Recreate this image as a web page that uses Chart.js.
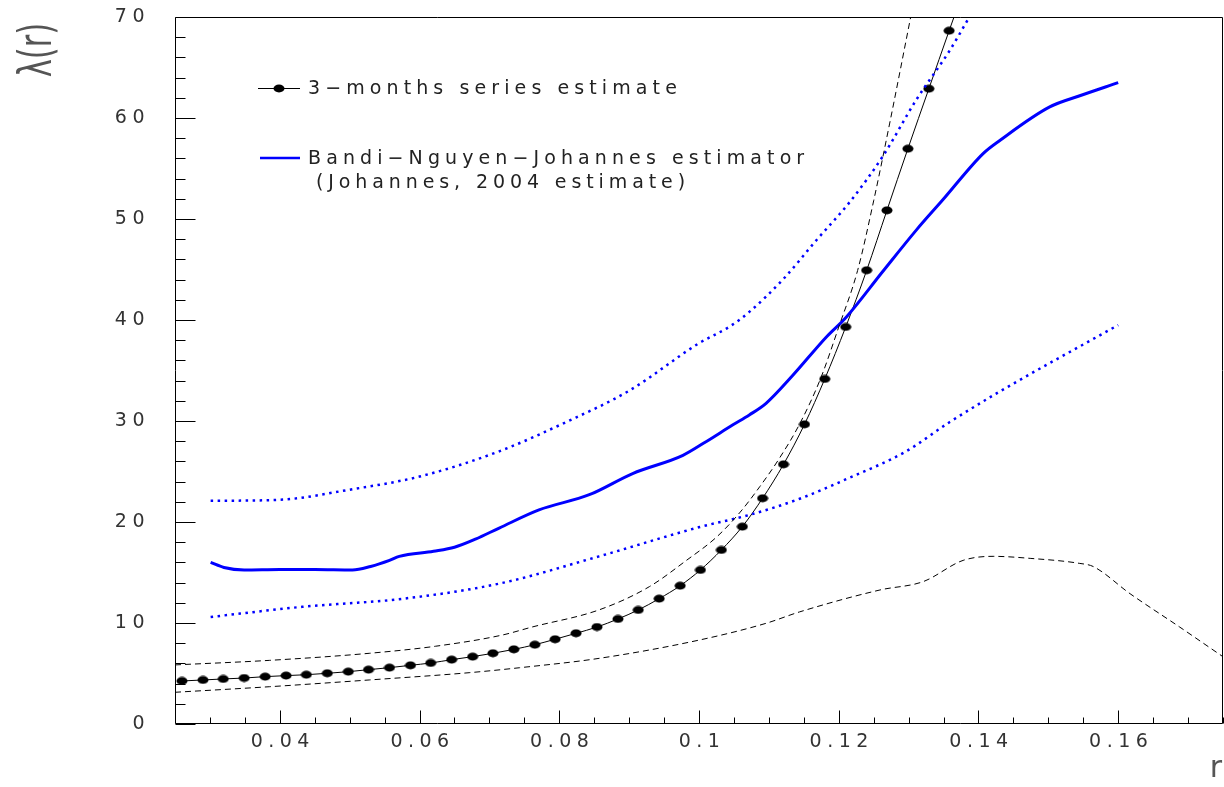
<!DOCTYPE html>
<html><head><meta charset="utf-8">
<script src="https://cdn.jsdelivr.net/npm/chart.js@4.4.1/dist/chart.umd.min.js"></script>
<style>html,body{margin:0;padding:0;background:#fff;overflow:hidden}canvas{display:block}</style>
</head><body>
<canvas id="c" width="1224" height="787"></canvas>
<script>
// ---- tick labels ----
const xTickValues = [0.04, 0.06, 0.08, 0.10, 0.12, 0.14, 0.16];
const yTickValues = [0, 10, 20, 30, 40, 50, 60, 70];
const xTitle = 'r';
const yTitle = '\u03bb(r)';

// ---- 3-months series estimate (dots) ----
const r3m = [0.0260,0.0290,0.0319,0.0349,0.0379,0.0409,0.0438,0.0468,0.0498,0.0527,0.0557,0.0587,0.0616,0.0646,0.0676,0.0705,0.0735,0.0765,0.0794,0.0824,0.0854,0.0884,0.0913,0.0943,0.0973,0.1002,0.1032,0.1062,0.1091,0.1121,0.1151,0.1180,0.1210,0.1240,0.1269,0.1299,0.1329,0.1358];
const v3m = [4.26,4.36,4.46,4.55,4.69,4.79,4.88,5.02,5.18,5.38,5.58,5.81,6.04,6.37,6.67,7.00,7.39,7.85,8.39,8.98,9.60,10.40,11.29,12.41,13.69,15.25,17.23,19.54,22.35,25.71,29.67,34.16,39.31,44.92,50.86,56.96,62.90,68.64];
// curve continues to the frame top
const r3mTail = [0.1365];
const v3mTail = [70.0];

// ---- dashed confidence band of 3-months estimate ----
const rDashUp = [0.0250,0.0385,0.0528,0.0623,0.0718,0.0761,0.0857,0.0929,0.0982,0.1025,0.1058,0.1087,0.1115,0.1144,0.1174,0.1200,0.1227,0.1250,0.1273,0.1303];
const vDashUp = [5.85,6.30,7.00,7.70,8.80,9.60,11.30,13.60,16.20,18.50,20.90,23.50,26.30,29.70,34.20,39.30,44.90,51.80,59.50,70.00];
const rDashLo = [0.0250,0.0385,0.0528,0.0671,0.0743,0.0857,0.1001,0.1096,0.1144,0.1259,0.1321,0.1378,0.1421,0.1474,0.1545,0.1564,0.1617,0.1688,0.1750];
const vDashLo = [3.14,3.69,4.36,5.08,5.57,6.50,8.32,9.97,11.10,13.27,14.10,16.20,16.60,16.40,15.90,15.60,12.90,9.60,6.66];

// ---- Bandi-Nguyen-Johannes estimator ----
const rBNJ = [0.0301,0.0320,0.0349,0.0400,0.0450,0.0504,0.0530,0.0557,0.0571,0.0620,0.0650,0.0680,0.0714,0.0771,0.0843,0.0905,0.0977,0.1010,0.1048,0.1072,0.1096,0.1134,0.1182,0.1211,0.1263,0.1311,0.1349,0.1407,0.1431,0.1502,0.1545,0.1600];
const vBNJ = [16.00,15.50,15.25,15.30,15.30,15.25,15.60,16.20,16.60,17.10,17.50,18.30,19.40,21.20,22.70,24.80,26.60,27.95,29.60,30.60,31.75,34.50,38.30,40.30,44.80,48.90,51.90,56.50,57.80,61.10,62.20,63.50];
const rBNJUp = [0.0301,0.0400,0.0500,0.0600,0.0714,0.0810,0.0900,0.1000,0.1045,0.1072,0.1120,0.1168,0.1216,0.1263,0.1311,0.1359,0.1387];
const vBNJUp = [22.10,22.20,23.20,24.50,27.00,29.90,33.00,37.70,39.40,40.80,44.00,47.90,51.70,56.20,61.80,66.70,70.00];
const rBNJLo = [0.0301,0.0432,0.0576,0.0714,0.0857,0.1001,0.1072,0.1144,0.1216,0.1294,0.1359,0.1430,0.1600];
const vBNJLo = [10.60,11.60,12.40,13.90,16.60,19.50,20.70,22.30,24.40,26.90,29.90,32.90,39.50];

const legendTexts = ['3\u2212months series estimate', 'Bandi\u2212Nguyen\u2212Johannes estimator', '(Johannes, 2004 estimate)'];

function pts(xs, ys) { return xs.map((x, i) => ({x: x, y: ys[i]})); }

// ellipse marker
const dot = document.createElement('canvas');
dot.width = 12; dot.height = 9;
(function(){ const g = dot.getContext('2d'); g.fillStyle = '#000'; g.beginPath(); g.ellipse(6, 4.5, 5.5, 3.9, 0, 0, Math.PI*2); g.fill(); })();

const BLUE = '#0000ff';
const TICK_SPACING = '5.5px';

const spacingPlugin = {
  id: 'spacing',
  beforeUpdate(chart) { chart.ctx.letterSpacing = TICK_SPACING; },
  beforeDraw(chart) { chart.ctx.letterSpacing = TICK_SPACING; }
};

const framePlugin = {
  id: 'frame',
  afterDatasetsDraw(chart) {
    const {ctx, chartArea: a, scales: {x, y}} = chart;
    ctx.save();
    ctx.strokeStyle = '#000'; ctx.lineWidth = 1;
    const L = Math.round(a.left) + 0.5, R = Math.round(a.right) - 0.5, T = Math.round(a.top) + 0.5, B = Math.round(a.bottom) - 0.5;
    ctx.beginPath(); ctx.rect(L, T, R - L, B - T); ctx.stroke();
    ctx.beginPath();
    for (let k = 0; k <= 30; k++) {
      const v = 0.025 + k * 0.005;
      if (v > 0.1751) break;
      const px = Math.round(x.getPixelForValue(v)) + 0.5;
      const major = xTickValues.some(t => Math.abs(t - v) < 1e-6);
      ctx.moveTo(px, B); ctx.lineTo(px, B - (major ? 13 : 6));
    }
    for (let v = 0; v <= 70; v += 2) {
      const py = Math.round(y.getPixelForValue(v)) + 0.5;
      const major = yTickValues.indexOf(v) >= 0;
      ctx.moveTo(L, py); ctx.lineTo(L + (major ? 20 : 10), py);
    }
    ctx.stroke();
    ctx.restore();
  },
  afterDraw(chart) {
    const ctx = chart.ctx;
    ctx.save();
    ctx.letterSpacing = '0px';
    // axis titles
    ctx.fillStyle = '#555';
    ctx.font = '34px "DejaVu Sans"';
    ctx.save();
    ctx.translate(39, 50);
    ctx.rotate(-Math.PI / 2);
    ctx.scale(0.9, 1.35);
    ctx.textAlign = 'center'; ctx.textBaseline = 'middle';
    ctx.fillText(yTitle, 0, 0);
    ctx.restore();
    ctx.font = '30px "DejaVu Sans"';
    ctx.textAlign = 'right'; ctx.textBaseline = 'alphabetic';
    ctx.fillText(xTitle, 1222, 777);
    // legend entry 1
    ctx.strokeStyle = '#000'; ctx.lineWidth = 1;
    ctx.beginPath(); ctx.moveTo(258, 88.5); ctx.lineTo(300, 88.5); ctx.stroke();
    ctx.drawImage(dot, 279 - 6, 88.5 - 4.5);
    // legend entry 2
    ctx.strokeStyle = BLUE; ctx.lineWidth = 2.5;
    ctx.beginPath(); ctx.moveTo(260, 158); ctx.lineTo(300, 158); ctx.stroke();
    ctx.fillStyle = '#222';
    ctx.font = '19px "DejaVu Sans"';
    ctx.letterSpacing = '5.1px';
    ctx.textBaseline = 'middle'; ctx.textAlign = 'left';
    ctx.fillText(legendTexts[0], 308, 89);
    ctx.fillText(legendTexts[1], 308, 159);
    ctx.letterSpacing = '4.9px';
    ctx.fillText(legendTexts[2], 316, 183);
    ctx.restore();
  }
};

const tickFont = {family: 'DejaVu Sans', size: 19};

new Chart(document.getElementById('c'), {
  type: 'line',
  data: {
    datasets: [
      {data: pts(rDashUp, vDashUp), borderColor: '#000', borderWidth: 1, borderDash: [6, 4], pointRadius: 0, cubicInterpolationMode: 'monotone'},
      {data: pts(rDashLo, vDashLo), borderColor: '#000', borderWidth: 1, borderDash: [6, 4], pointRadius: 0, cubicInterpolationMode: 'monotone'},
      {data: pts(rBNJUp, vBNJUp), borderColor: BLUE, borderWidth: 2.5, borderDash: [2.5, 4.5], pointRadius: 0, cubicInterpolationMode: 'monotone'},
      {data: pts(rBNJLo, vBNJLo), borderColor: BLUE, borderWidth: 2.5, borderDash: [2.5, 4.5], pointRadius: 0, cubicInterpolationMode: 'monotone'},
      {data: pts(rBNJ, vBNJ), borderColor: BLUE, borderWidth: 3, pointRadius: 0, cubicInterpolationMode: 'monotone'},
      {data: pts(r3m.concat(r3mTail), v3m.concat(v3mTail)), borderColor: '#000', borderWidth: 1, cubicInterpolationMode: 'monotone',
        pointStyle: dot, pointRadius: c => c.dataIndex < r3m.length ? 4 : 0}
    ]
  },
  options: {
    responsive: false,
    animation: false,
    events: [],
    layout: {autoPadding: false, padding: {top: 17, right: 1, left: 0, bottom: 0}},
    plugins: {legend: {display: false}, tooltip: {enabled: false}},
    scales: {
      x: {
        type: 'linear', min: 0.025, max: 0.175,
        afterBuildTicks: s => { s.ticks = xTickValues.map(v => ({value: v})); },
        afterFit: s => { s.height = 63; s.paddingLeft = 0; s.paddingRight = 0; },
        ticks: {callback: v => String(+Number(v).toFixed(3)), font: tickFont, color: '#333', padding: 7, labelOffset: 3, maxRotation: 0, autoSkip: false},
        grid: {display: false, drawTicks: false}, border: {display: false},
        title: {display: false}
      },
      y: {
        type: 'linear', min: 0, max: 70,
        afterBuildTicks: s => { s.ticks = yTickValues.map(v => ({value: v})); },
        afterFit: s => { s.width = 175; s.paddingTop = 0; s.paddingBottom = 0; },
        ticks: {font: tickFont, color: '#333', padding: 25},
        grid: {display: false, drawTicks: false}, border: {display: false},
        title: {display: false}
      }
    }
  },
  plugins: [spacingPlugin, framePlugin]
});
</script>
</body></html>
